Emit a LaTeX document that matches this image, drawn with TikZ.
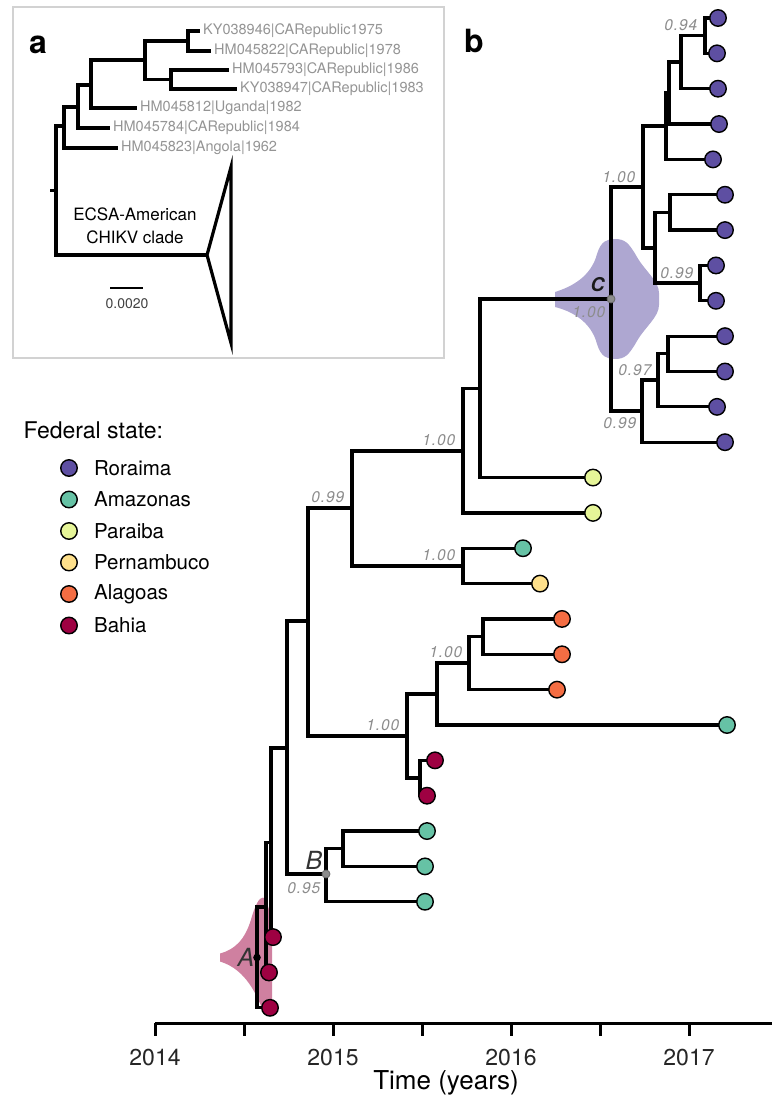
\documentclass[tikz,border=0pt]{standalone}
\usepackage{fontspec}
\setmainfont{TeX Gyre Heros}
\newfontfamily\postfont[LetterSpace=6]{TeX Gyre Heros}
\usepackage{tikz}
\usetikzlibrary{positioning,calc}

\definecolor{rora}{HTML}{5E4FA2}
\definecolor{amaz}{HTML}{66C2A5}
\definecolor{para}{HTML}{E6F598}
\definecolor{pern}{HTML}{FEE08B}
\definecolor{alag}{HTML}{F46D43}
\definecolor{bahi}{HTML}{9E0142}
\definecolor{insetgray}{HTML}{D2D2D2}

\tikzset{
  branch/.style = {line width=3.2pt},
  seq/.style    = {circle, draw=black, line width=1.4pt, minimum size=16.5pt,
                   inner sep=0pt, fill=#1},
  pp/.style     = {font=\postfont\itshape\fontsize{15.5}{16}\selectfont,
                   text=black!45, inner sep=0.5pt},
  dated/.style  = {font=\itshape\fontsize{25}{26}\selectfont, text=black!80,
                   inner sep=0.5pt},
  acc/.style    = {font=\fontsize{14.5}{16}\selectfont, text=black!42,
                   anchor=west, inner sep=3pt},
  keytxt/.style = {font=\fontsize{20.5}{22}\selectfont, anchor=west, inner sep=0pt},
  panel/.style  = {font=\bfseries\fontsize{32}{34}\selectfont, inner sep=0pt},
  year/.style   = {font=\fontsize{23}{25}\selectfont, text=black!85}
}

\begin{document}
\begin{tikzpicture}[x=1pt, y=-1pt]
\useasboundingbox (0,0) rectangle (772,1099);

% ---------- panel a (inset)
\draw[insetgray, line width=2.5pt] (13,7) rectangle (444,358);
\node[panel] (pa) at (38,45) {a};
\coordinate (iroot) at (50,190.5);
\coordinate (i0) at (56,190.5);
\coordinate (i1) at (64,126);
\coordinate (i2) at (78,107);
\coordinate (i3) at (91,85);
\coordinate (i4) at (145,60);
\coordinate (i5) at (188,41);
\coordinate (i6) at (171,79.5);
\coordinate (apex) at (207,255);
\node[acc] (s1) at (200,31) {KY038946|CARepublic1975};
\node[acc] (s2) at (211,51) {HM045822|CARepublic|1978};
\node[acc] (s3) at (229,70) {HM045793|CARepublic|1986};
\node[acc] (s4) at (237,89) {KY038947|CARepublic|1983};
\node[acc] (s5) at (137,108) {HM045812|Uganda|1982};
\node[acc] (s6) at (110,128) {HM045784|CARepublic|1984};
\node[acc] (s7) at (118,148) {HM045823|Angola|1962};
\draw[branch] (iroot) -- (i0);
\foreach \p/\c in {i0/i1, i0/apex, i1/i2, i1/s7, i2/i3, i2/s6, i3/i4, i3/s5,
                   i4/i5, i4/i6, i5/s1, i5/s2, i6/s3, i6/s4}
  \draw[branch] (\p) |- (\c);
\draw[branch, line join=miter] (apex) -- (231,167) -- (231,343) -- cycle;
\node[align=center, font=\fontsize{17}{23}\selectfont] (clade) at (135,226)
  {ECSA-American\\CHIKV clade};
\coordinate (sb1) at (110,288);
\coordinate (sb2) at (143,288);
\draw[line width=2.8pt] (sb1) -- (sb2);
\node[font=\fontsize{14}{16}\selectfont, text=black!75] (sblab) at (127,304) {0.0020};

% ---------- legend
\node[anchor=base west, font=\fontsize{23}{25}\selectfont] (keytitle) at (20,438) {Federal state:};
\node[seq=rora] (kRor) at (69,468) {};
\node[seq=amaz, below=13.6pt of kRor] (kAma) {};
\node[seq=para, below=13.6pt of kAma] (kPar) {};
\node[seq=pern, below=13.6pt of kPar] (kPer) {};
\node[seq=alag, below=13.6pt of kPer] (kAla) {};
\node[seq=bahi, below=13.6pt of kAla] (kBah) {};
\node[keytxt, right=16pt of kRor] (tRor) {Roraima};
\node[keytxt, right=16pt of kAma] (tAma) {Amazonas};
\node[keytxt, right=16pt of kPar] (tPar) {Paraiba};
\node[keytxt, right=16pt of kPer] (tPer) {Pernambuco};
\node[keytxt, right=16pt of kAla] (tAla) {Alagoas};
\node[keytxt, right=16pt of kBah] (tBah) {Bahia};

% ---------- panel b (time tree)
\node[panel] (pb) at (474,41) {b};

% internal nodes
\coordinate (n1) at (705,35.7);
\coordinate (n2) at (681,62);
\coordinate (n3) at (669,93);
\coordinate (n4) at (666,126);
\coordinate (n5) at (670,212.5);
\coordinate (n6) at (700,283);
\coordinate (n7) at (655,248);
\coordinate (n8) at (643,187);
\coordinate (n9) at (668,353.8);
\coordinate (n10) at (658,380);
\coordinate (n11) at (642,411);
\coordinate (C) at (611,299);
\coordinate (n12) at (480,388.5);
\coordinate (n13) at (463,451);
\coordinate (n14) at (463,566);
\coordinate (n15) at (352,508);
\coordinate (n16) at (483,636.6);
\coordinate (n17) at (469,663);
\coordinate (n18) at (437,694);
\coordinate (n19) at (420,778);
\coordinate (n20) at (407,736);
\coordinate (n21) at (308,621);
\coordinate (n22) at (343,848.7);
\coordinate (B) at (326,874);
\coordinate (n23) at (287,748);
\coordinate (n24) at (271,842.5);
\coordinate (n25) at (266,907);
\coordinate (A) at (257,957.5);

% HPD violins of the dated nodes
\fill[rora!50] (C) ++(-56,-7) .. controls ++(16,-5) and ++(-6,23) .. ++(42,-38)
  .. controls ++(4,-13) and ++(-8,0) .. ++(18,-15)
  .. controls ++(10,0) and ++(-8,-14) .. ++(22,18)
  .. controls ++(8,14) and ++(0,-12) .. ++(22,36) -- ++(0,12)
  .. controls ++(0,12) and ++(8,-14) .. ++(-22,36)
  .. controls ++(-8,14) and ++(10,0) .. ++(-22,18)
  .. controls ++(-8,0) and ++(4,13) .. ++(-18,-15)
  .. controls ++(-6,-23) and ++(16,4) .. ++(-42,-37) -- cycle;
\fill[bahi!50] (A) ++(-37,-4) .. controls ++(15,-4) and ++(-6,20) .. ++(31,-34)
  .. controls ++(4,-14) and ++(-4,0) .. ++(12,-22)
  .. controls ++(4,2) and ++(-2,-10) .. ++(9,25) -- ++(0,80)
  .. controls ++(-1,5) and ++(4,3) .. ++(-11,3)
  .. controls ++(-4,-8) and ++(27,8) .. ++(-41,-44) -- cycle;

% tips
\foreach \nm/\xx/\i in {r1/718/0, r2/717/1, r3/718/2, r4/719/3,
    r5/713/4, r6/725/5, r7/725/6, r8/716/7, r9/716/8,
    r10/725/9, r11/725/10, r12/717/11, r13/725/12,
    pb1/593/13, pb2/593/14, am1/523/15, pe1/540/16,
    al1/562/17, al2/562/18, al3/557/19, am2/727/20,
    ba1/435/21, ba2/427/22, am3/427/23, am4/425/24,
    am5/425/25, ba3/273/26, ba4/269/27, ba5/270/28}
  \coordinate (\nm) at (\xx,{18+35.35*\i});

% branches
\foreach \p/\c in {n1/r1, n1/r2, n2/n1, n2/r3, n3/n2, n3/r4, n4/n3, n4/r5,
    n5/r6, n5/r7, n6/r8, n6/r9, n7/n5, n7/n6, n8/n4, n8/n7,
    n9/r10, n9/r11, n10/n9, n10/r12, n11/n10, n11/r13, C/n8, C/n11,
    n12/C, n12/pb1, n13/n12, n13/pb2, n14/am1, n14/pe1, n15/n13, n15/n14,
    n16/al1, n16/al2, n17/n16, n17/al3, n18/n17, n18/am2, n19/ba1, n19/ba2,
    n20/n18, n20/n19, n21/n15, n21/n20, n22/am3, n22/am4, B/n22, B/am5,
    n23/n21, n23/B, n24/n23, n24/ba3, n25/n24, n25/ba4, A/n25, A/ba5}
  \draw[branch] (\p) |- (\c);

\foreach \nm/\col in {r1/rora, r2/rora, r3/rora, r4/rora, r5/rora, r6/rora, r7/rora,
    r8/rora, r9/rora, r10/rora, r11/rora, r12/rora, r13/rora, pb1/para, pb2/para,
    am1/amaz, pe1/pern, al1/alag, al2/alag, al3/alag, am2/amaz, ba1/bahi, ba2/bahi,
    am3/amaz, am4/amaz, am5/amaz, ba3/bahi, ba4/bahi, ba5/bahi}
  \node[seq=\col] at (\nm) {};

% posterior supports
\node[pp, above left=4pt and 7pt of n1] (q1) {0.94};
\node[pp, above left=4pt and 7pt of n8] (q2) {1.00};
\node[pp, above left=4pt and 6pt of n6] (q3) {0.99};
\node[pp, below left=7pt and 5pt of C] (q4) {1.00};
\node[pp, above left=4pt and 6pt of n10] (q5) {0.97};
\node[pp, below left=6pt and 5pt of n11] (q6) {0.99};
\node[pp, above left=5pt and 7pt of n13] (q7) {1.00};
\node[pp, above left=5pt and 7pt of n15] (q8) {0.99};
\node[pp, above left=5pt and 7pt of n14] (q9) {1.00};
\node[pp, above left=5pt and 7pt of n20] (q10) {1.00};
\node[pp, above left=5pt and 6pt of n17] (q11) {1.00};
\node[pp, below left=8pt and 5pt of B] (q12) {0.95};

% dated nodes
\fill[black] (A) circle (3.8);
\filldraw[fill=black!45, draw=black!60, line width=0.8pt] (B) circle (4);
\filldraw[fill=black!45, draw=black!60, line width=0.8pt] (C) circle (4);
\node[dated, left=2pt of A] (lA) {A};
\node[dated, above left=4pt and 3pt of B] (lB) {B};
\node[dated, font=\bfseries\itshape\fontsize{19}{20}\selectfont, text=black!90,
      above left=7pt and 6pt of C] (lC) {C};

% time axis
\coordinate (ax0) at (155,1023);
\coordinate (ax1) at (772,1023);
\draw[line width=3pt] (ax0) -- (ax1);
\foreach \k in {0,...,6}
  \draw[line width=3pt] ($(ax0)+(89*\k,0)$) -- ++(0,13);
\foreach \yr [count=\k from 0] in {2014,2015,2016,2017}
  \node[year] at ($(ax0)+(178*\k,35)$) {\yr};
\node[font=\fontsize{26}{28}\selectfont] (xlab) at (446,1083) {Time (years)};
\end{tikzpicture}
\end{document}
